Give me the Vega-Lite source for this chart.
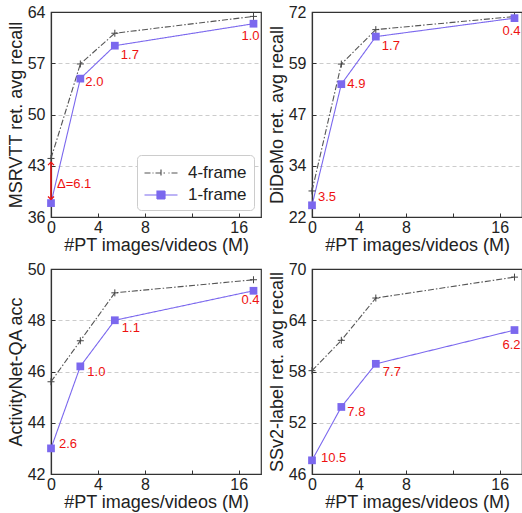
{
  "$schema": "https://vega.github.io/schema/vega-lite/v6.json",
  "padding": {"left": 6, "top": 3, "right": 0, "bottom": 0},
  "config": {
    "font": "Liberation Sans",
    "view": {"stroke": "#333333", "strokeWidth": 1.2},
    "axis": {
      "labelFont": "Liberation Sans", "titleFont": "Liberation Sans",
      "labelFontSize": 16, "titleFontSize": 18, "titleFontWeight": "normal",
      "labelColor": "#222222", "titleColor": "#222222",
      "domainColor": "#333333", "domainWidth": 1.2,
      "tickColor": "#333333", "tickSize": -4, "tickWidth": 1, "grid": false
    },
    "axisY": {"grid": true, "gridDash": [4, 3], "labelPadding": 10, "titlePadding": 2},
    "axisX": {"labelPadding": 6, "titlePadding": 1, "labelFlush": false}
  },
  "datasets": {
    "d": [
      {"panel": "msrvtt", "frames": "4-frame", "x": 0, "y": 44.0},
      {"panel": "msrvtt", "frames": "4-frame", "x": 2.5, "y": 56.9},
      {"panel": "msrvtt", "frames": "4-frame", "x": 5.44, "y": 61.1},
      {"panel": "msrvtt", "frames": "4-frame", "x": 17.26, "y": 63.4},
      {"panel": "msrvtt", "frames": "1-frame", "x": 0, "y": 37.9, "label": "Δ=6.1"},
      {"panel": "msrvtt", "frames": "1-frame", "x": 2.5, "y": 54.9, "label": "2.0"},
      {"panel": "msrvtt", "frames": "1-frame", "x": 5.44, "y": 59.4, "label": "1.7"},
      {"panel": "msrvtt", "frames": "1-frame", "x": 17.26, "y": 62.4, "label": "1.0"},
      {"panel": "didemo", "frames": "4-frame", "x": 0, "y": 28.35},
      {"panel": "didemo", "frames": "4-frame", "x": 2.5, "y": 59.3},
      {"panel": "didemo", "frames": "4-frame", "x": 5.44, "y": 67.7},
      {"panel": "didemo", "frames": "4-frame", "x": 17.26, "y": 70.9},
      {"panel": "didemo", "frames": "1-frame", "x": 0, "y": 24.85, "label": "3.5"},
      {"panel": "didemo", "frames": "1-frame", "x": 2.5, "y": 54.4, "label": "4.9"},
      {"panel": "didemo", "frames": "1-frame", "x": 5.44, "y": 66.0, "label": "1.7"},
      {"panel": "didemo", "frames": "1-frame", "x": 17.26, "y": 70.5, "label": "0.4"},
      {"panel": "anet", "frames": "4-frame", "x": 0, "y": 45.6},
      {"panel": "anet", "frames": "4-frame", "x": 2.5, "y": 47.2},
      {"panel": "anet", "frames": "4-frame", "x": 5.44, "y": 49.07},
      {"panel": "anet", "frames": "4-frame", "x": 17.26, "y": 49.58},
      {"panel": "anet", "frames": "1-frame", "x": 0, "y": 43.0, "label": "2.6"},
      {"panel": "anet", "frames": "1-frame", "x": 2.5, "y": 46.2, "label": "1.0"},
      {"panel": "anet", "frames": "1-frame", "x": 5.44, "y": 48.0, "label": "1.1"},
      {"panel": "anet", "frames": "1-frame", "x": 17.26, "y": 49.15, "label": "0.4"},
      {"panel": "ssv2", "frames": "4-frame", "x": 0, "y": 58.1},
      {"panel": "ssv2", "frames": "4-frame", "x": 2.5, "y": 61.65},
      {"panel": "ssv2", "frames": "4-frame", "x": 5.44, "y": 66.6},
      {"panel": "ssv2", "frames": "4-frame", "x": 17.26, "y": 69.05},
      {"panel": "ssv2", "frames": "1-frame", "x": 0, "y": 47.6, "label": "10.5"},
      {"panel": "ssv2", "frames": "1-frame", "x": 2.5, "y": 53.85, "label": "7.8"},
      {"panel": "ssv2", "frames": "1-frame", "x": 5.44, "y": 58.9, "label": "7.7"},
      {"panel": "ssv2", "frames": "1-frame", "x": 17.26, "y": 62.85, "label": "6.2"}
    ],
    "arrow": [
      {"x": 0, "y": 38.4, "end": "lo"},
      {"x": 0, "y": 43.5, "end": "hi"}
    ]
  },
  "columns": 2,
  "spacing": {"row": 5, "column": 5},
  "resolve": {"scale": {"color": "independent", "strokeDash": "independent"}},
  "concat": [
    {
      "width": 210, "height": 205,
      "data": {"name": "d"},
      "transform": [{"filter": "datum.panel === 'msrvtt'"}],
      "encoding": {
        "x": {"field": "x", "type": "quantitative", "scale": {"domain": [0, 17.9], "nice": false, "zero": false},
              "axis": {"values": [0, 4, 8, 12, 16], "labelExpr": "datum.value == 12 ? '' : datum.label", "title": "#PT images/videos (M)"}},
        "y": {"field": "y", "type": "quantitative", "scale": {"domain": [36, 64], "nice": false, "zero": false},
              "axis": {"values": [36, 43, 50, 57, 64], "title": "MSRVTT ret. avg recall",
                       "gridColor": {"condition": {"test": "datum.index === 0 || datum.index === 1", "value": "transparent"}, "value": "#cccccc"}}}
      },
      "layer": [
        {
          "mark": {"type": "line", "strokeWidth": 1.1},
          "encoding": {
            "color": {"field": "frames", "type": "nominal",
                      "scale": {"domain": ["4-frame", "1-frame"], "range": ["#555555", "#7b68ee"]},
                      "legend": {"title": null, "orient": "bottom-right", "offset": 7, "padding": 7,
                                 "fillColor": "white", "strokeColor": "#cccccc", "cornerRadius": 4,
                                 "labelFontSize": 17, "labelFont": "Liberation Sans", "labelColor": "#222222",
                                 "symbolSize": 400, "symbolOffset": 6, "labelOffset": 16, "rowPadding": 3,
                                 "encode": {"symbols": {"update": {
                                   "shape": {"signal": "datum.value === '4-frame' ? 'M-1.65,0H-1.05M-0.85,0H-0.75M-0.55,0H0.55M0.75,0H0.85M1.05,0H1.65M0,-0.35V0.35' : 'M-1.65,0H1.65M-0.4,-0.4H0.4V0.4H-0.4Z'"},
                                   "fill": {"signal": "datum.value === '1-frame' ? '#7b68ee' : 'transparent'"},
                                   "stroke": {"signal": "datum.value === '1-frame' ? '#7b68ee' : '#555555'"},
                                   "strokeDash": {"value": [1, 0]},
                                   "strokeWidth": {"value": 1.2},
                                   "opacity": {"value": 1}
                                 }}}}},
            "strokeDash": {"field": "frames", "type": "nominal",
                           "scale": {"domain": ["4-frame", "1-frame"], "range": [[6, 2, 1.5, 2], [1, 0]]}, "legend": null}
          }
        },
        {"transform": [{"filter": "datum.frames === '4-frame'"}],
         "mark": {"type": "point", "shape": "M-1,0H1M0,-1V1", "size": 49, "stroke": "#444444", "strokeWidth": 1, "filled": false, "opacity": 1}},
        {"transform": [{"filter": "datum.frames === '1-frame'"}],
         "mark": {"type": "square", "size": 60, "color": "#7b68ee", "opacity": 1}},
        {"transform": [{"filter": "datum.frames === '1-frame' && datum.x === 0"}],
         "mark": {"type": "text", "align": "left", "baseline": "middle", "dx": 6, "dy": -19, "fontSize": 13, "color": "#ee1111"},
         "encoding": {"text": {"field": "label"}}},
        {"transform": [{"filter": "datum.frames === '1-frame' && datum.x === 2.5"}],
         "mark": {"type": "text", "align": "left", "baseline": "middle", "dx": 5, "dy": 3, "fontSize": 13, "color": "#ee1111"},
         "encoding": {"text": {"field": "label"}}},
        {"transform": [{"filter": "datum.frames === '1-frame' && datum.x === 5.44"}],
         "mark": {"type": "text", "align": "left", "baseline": "middle", "dx": 6, "dy": 9, "fontSize": 13, "color": "#ee1111"},
         "encoding": {"text": {"field": "label"}}},
        {"transform": [{"filter": "datum.frames === '1-frame' && datum.x === 17.26"}],
         "mark": {"type": "text", "align": "center", "baseline": "middle", "dx": -3, "dy": 12, "fontSize": 13, "color": "#ee1111"},
         "encoding": {"text": {"field": "label"}}},
        {"data": {"name": "arrow"},
         "mark": {"type": "line", "color": "#dd1111", "strokeWidth": 1.6},
         "encoding": {}},
        {"data": {"name": "arrow"},
         "transform": [{"filter": "datum.end === 'hi'"}],
         "mark": {"type": "point", "shape": "M-1,1L0,0L1,1", "size": 36, "stroke": "#ee1111", "strokeWidth": 1.3, "filled": false, "opacity": 1}},
        {"data": {"name": "arrow"},
         "transform": [{"filter": "datum.end === 'lo'"}],
         "mark": {"type": "point", "shape": "M-1,-1L0,0L1,-1", "size": 36, "stroke": "#ee1111", "strokeWidth": 1.3, "filled": false, "opacity": 1}}
      ]
    },
    {
      "width": 210, "height": 205,
      "data": {"name": "d"},
      "transform": [{"filter": "datum.panel === 'didemo'"}],
      "encoding": {
        "x": {"field": "x", "type": "quantitative", "scale": {"domain": [0, 17.9], "nice": false, "zero": false},
              "axis": {"values": [0, 4, 8, 12, 16], "labelExpr": "datum.value == 12 ? '' : datum.label", "title": "#PT images/videos (M)"}},
        "y": {"field": "y", "type": "quantitative", "scale": {"domain": [22, 72], "nice": false, "zero": false},
              "axis": {"values": [22, 34.5, 47, 59.5, 72], "labelExpr": "'' + floor(datum.value)", "title": "DiDeMo ret. avg recall",
                       "gridColor": {"condition": {"test": "datum.index === 0 || datum.index === 1", "value": "transparent"}, "value": "#cccccc"}}}
      },
      "layer": [
        {
          "mark": {"type": "line", "strokeWidth": 1.1},
          "encoding": {
            "color": {"field": "frames", "type": "nominal",
                      "scale": {"domain": ["4-frame", "1-frame"], "range": ["#555555", "#7b68ee"]}, "legend": null},
            "strokeDash": {"field": "frames", "type": "nominal",
                           "scale": {"domain": ["4-frame", "1-frame"], "range": [[6, 2, 1.5, 2], [1, 0]]}, "legend": null}
          }
        },
        {"transform": [{"filter": "datum.frames === '4-frame'"}],
         "mark": {"type": "point", "shape": "M-1,0H1M0,-1V1", "size": 49, "stroke": "#444444", "strokeWidth": 1, "filled": false, "opacity": 1}},
        {"transform": [{"filter": "datum.frames === '1-frame'"}],
         "mark": {"type": "square", "size": 60, "color": "#7b68ee", "opacity": 1}},
        {"transform": [{"filter": "datum.frames === '1-frame' && datum.x === 0"}],
         "mark": {"type": "text", "align": "left", "baseline": "middle", "dx": 6, "dy": -8, "fontSize": 13, "color": "#ee1111"},
         "encoding": {"text": {"field": "label"}}},
        {"transform": [{"filter": "datum.frames === '1-frame' && datum.x === 2.5"}],
         "mark": {"type": "text", "align": "left", "baseline": "middle", "dx": 6, "dy": 0, "fontSize": 13, "color": "#ee1111"},
         "encoding": {"text": {"field": "label"}}},
        {"transform": [{"filter": "datum.frames === '1-frame' && datum.x === 5.44"}],
         "mark": {"type": "text", "align": "left", "baseline": "middle", "dx": 6, "dy": 9, "fontSize": 13, "color": "#ee1111"},
         "encoding": {"text": {"field": "label"}}},
        {"transform": [{"filter": "datum.frames === '1-frame' && datum.x === 17.26"}],
         "mark": {"type": "text", "align": "center", "baseline": "middle", "dx": -3, "dy": 13, "fontSize": 13, "color": "#ee1111"},
         "encoding": {"text": {"field": "label"}}}
      ]
    },
    {
      "width": 210, "height": 205,
      "data": {"name": "d"},
      "transform": [{"filter": "datum.panel === 'anet'"}],
      "encoding": {
        "x": {"field": "x", "type": "quantitative", "scale": {"domain": [0, 17.9], "nice": false, "zero": false},
              "axis": {"values": [0, 4, 8, 12, 16], "labelExpr": "datum.value == 12 ? '' : datum.label", "title": "#PT images/videos (M)"}},
        "y": {"field": "y", "type": "quantitative", "scale": {"domain": [42, 50], "nice": false, "zero": false},
              "axis": {"values": [42, 44, 46, 48, 50], "title": "ActivityNet-QA acc",
                       "gridColor": {"condition": {"test": "datum.index === 0 || datum.index === 1", "value": "transparent"}, "value": "#cccccc"}}}
      },
      "layer": [
        {
          "mark": {"type": "line", "strokeWidth": 1.1},
          "encoding": {
            "color": {"field": "frames", "type": "nominal",
                      "scale": {"domain": ["4-frame", "1-frame"], "range": ["#555555", "#7b68ee"]}, "legend": null},
            "strokeDash": {"field": "frames", "type": "nominal",
                           "scale": {"domain": ["4-frame", "1-frame"], "range": [[6, 2, 1.5, 2], [1, 0]]}, "legend": null}
          }
        },
        {"transform": [{"filter": "datum.frames === '4-frame'"}],
         "mark": {"type": "point", "shape": "M-1,0H1M0,-1V1", "size": 49, "stroke": "#444444", "strokeWidth": 1, "filled": false, "opacity": 1}},
        {"transform": [{"filter": "datum.frames === '1-frame'"}],
         "mark": {"type": "square", "size": 60, "color": "#7b68ee", "opacity": 1}},
        {"transform": [{"filter": "datum.frames === '1-frame' && datum.x === 0"}],
         "mark": {"type": "text", "align": "left", "baseline": "middle", "dx": 8, "dy": -4, "fontSize": 13, "color": "#ee1111"},
         "encoding": {"text": {"field": "label"}}},
        {"transform": [{"filter": "datum.frames === '1-frame' && datum.x === 2.5"}],
         "mark": {"type": "text", "align": "left", "baseline": "middle", "dx": 7, "dy": 6, "fontSize": 13, "color": "#ee1111"},
         "encoding": {"text": {"field": "label"}}},
        {"transform": [{"filter": "datum.frames === '1-frame' && datum.x === 5.44"}],
         "mark": {"type": "text", "align": "left", "baseline": "middle", "dx": 7, "dy": 8, "fontSize": 13, "color": "#ee1111"},
         "encoding": {"text": {"field": "label"}}},
        {"transform": [{"filter": "datum.frames === '1-frame' && datum.x === 17.26"}],
         "mark": {"type": "text", "align": "center", "baseline": "middle", "dx": -3, "dy": 9, "fontSize": 13, "color": "#ee1111"},
         "encoding": {"text": {"field": "label"}}}
      ]
    },
    {
      "width": 210, "height": 205,
      "data": {"name": "d"},
      "transform": [{"filter": "datum.panel === 'ssv2'"}],
      "encoding": {
        "x": {"field": "x", "type": "quantitative", "scale": {"domain": [0, 17.9], "nice": false, "zero": false},
              "axis": {"values": [0, 4, 8, 12, 16], "labelExpr": "datum.value == 12 ? '' : datum.label", "title": "#PT images/videos (M)"}},
        "y": {"field": "y", "type": "quantitative", "scale": {"domain": [46, 70], "nice": false, "zero": false},
              "axis": {"values": [46, 52, 58, 64, 70], "title": "SSv2-label ret. avg recall",
                       "gridColor": {"condition": {"test": "datum.index === 0 || datum.index === 1", "value": "transparent"}, "value": "#cccccc"}}}
      },
      "layer": [
        {
          "mark": {"type": "line", "strokeWidth": 1.1},
          "encoding": {
            "color": {"field": "frames", "type": "nominal",
                      "scale": {"domain": ["4-frame", "1-frame"], "range": ["#555555", "#7b68ee"]}, "legend": null},
            "strokeDash": {"field": "frames", "type": "nominal",
                           "scale": {"domain": ["4-frame", "1-frame"], "range": [[6, 2, 1.5, 2], [1, 0]]}, "legend": null}
          }
        },
        {"transform": [{"filter": "datum.frames === '4-frame'"}],
         "mark": {"type": "point", "shape": "M-1,0H1M0,-1V1", "size": 49, "stroke": "#444444", "strokeWidth": 1, "filled": false, "opacity": 1}},
        {"transform": [{"filter": "datum.frames === '1-frame'"}],
         "mark": {"type": "square", "size": 60, "color": "#7b68ee", "opacity": 1}},
        {"transform": [{"filter": "datum.frames === '1-frame' && datum.x === 0"}],
         "mark": {"type": "text", "align": "left", "baseline": "middle", "dx": 9, "dy": -2, "fontSize": 13, "color": "#ee1111"},
         "encoding": {"text": {"field": "label"}}},
        {"transform": [{"filter": "datum.frames === '1-frame' && datum.x === 2.5"}],
         "mark": {"type": "text", "align": "left", "baseline": "middle", "dx": 6, "dy": 5, "fontSize": 13, "color": "#ee1111"},
         "encoding": {"text": {"field": "label"}}},
        {"transform": [{"filter": "datum.frames === '1-frame' && datum.x === 5.44"}],
         "mark": {"type": "text", "align": "left", "baseline": "middle", "dx": 7, "dy": 8, "fontSize": 13, "color": "#ee1111"},
         "encoding": {"text": {"field": "label"}}},
        {"transform": [{"filter": "datum.frames === '1-frame' && datum.x === 17.26"}],
         "mark": {"type": "text", "align": "center", "baseline": "middle", "dx": -3, "dy": 15, "fontSize": 13, "color": "#ee1111"},
         "encoding": {"text": {"field": "label"}}}
      ]
    }
  ]
}
